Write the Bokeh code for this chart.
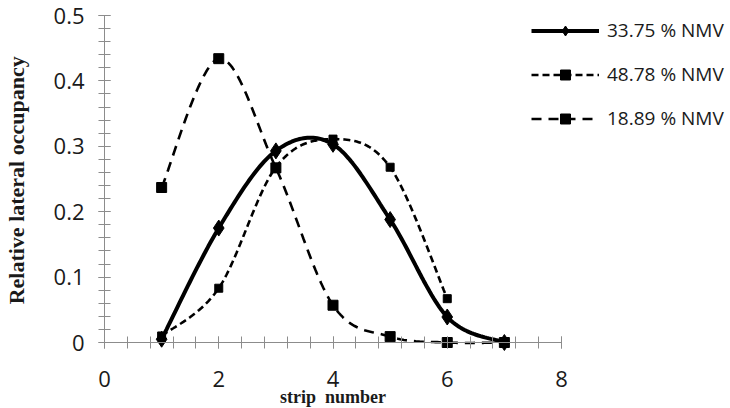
import numpy as np
from bokeh.plotting import figure
from bokeh.models import Range1d, Legend, LegendItem, FixedTicker, Label
from bokeh.embed import file_html
from bokeh.resources import INLINE

# ---- data ----
strip_a = [1, 2, 3, 4, 5, 6, 7]
occ_a = [0.005, 0.175, 0.293, 0.303, 0.188, 0.039, 0.000]   # 33.75 % NMV
strip_b = [1, 2, 3, 4, 5, 6]
occ_b = [0.010, 0.083, 0.268, 0.311, 0.268, 0.067]          # 48.78 % NMV
strip_c = [1, 2, 3, 4, 5, 6, 7]
occ_c = [0.237, 0.434, 0.267, 0.057, 0.009, 0.000, 0.000]   # 18.89 % NMV
series_names = ["33.75 % NMV", "48.78 % NMV", "18.89 % NMV"]
x_ticks = [0, 2, 4, 6, 8]
y_ticks = [0, 0.1, 0.2, 0.3, 0.4, 0.5]
x_title = "strip\u00a0\u00a0number"
y_title = "Relative lateral occupancy"


def smooth(xs, ys, n=30):
    """Smoothed line through the points (Catmull-Rom style, as a spreadsheet draws it)."""
    P = np.column_stack([xs, ys]).astype(float)
    out = []
    m = len(P)
    for i in range(m - 1):
        p0 = P[i - 1] if i > 0 else P[i]
        p1 = P[i]
        p2 = P[i + 1]
        p3 = P[i + 2] if i + 2 < m else P[i + 1]
        c1 = p1 + (p2 - p0) / 6.0
        c2 = p2 - (p3 - p1) / 6.0
        t = np.linspace(0, 1, n)[:, None]
        seg = ((1 - t) ** 3) * p1 + 3 * ((1 - t) ** 2) * t * c1 + 3 * (1 - t) * t ** 2 * c2 + t ** 3 * p2
        if i > 0:
            seg = seg[1:]
        out.append(seg)
    A = np.vstack(out)
    return A[:, 0], A[:, 1]


W, H = 730, 408
x0_px, x8_px = 104, 561
px_per_unit = (x8_px - x0_px) / 8.0
x_start = -x0_px / px_per_unit
x_end = (W - x0_px) / px_per_unit
top_px, zero_px = 15, 342
py_per_unit = (zero_px - top_px) / 0.5
y_start = -(H - zero_px) / py_per_unit
y_end = 0.5 + top_px / py_per_unit

p = figure(width=W, height=H, output_backend="svg", toolbar_location=None,
           x_range=Range1d(x_start, x_end), y_range=Range1d(y_start, y_end),
           min_border_left=0, min_border_right=0, min_border_top=0, min_border_bottom=0)
p.outline_line_color = None
p.grid.visible = False
p.background_fill_color = "white"
p.border_fill_color = "white"

axis_color = "#8c8c8c"
for ax in (p.xaxis[0], p.yaxis[0]):
    ax.axis_line_color = axis_color
    ax.major_tick_line_color = axis_color
    ax.minor_tick_line_color = axis_color
    ax.major_tick_in = 6
    ax.major_tick_out = 6
    ax.minor_tick_in = 6
    ax.minor_tick_out = 6
    ax.major_label_text_font = "Open Sans"
    ax.major_label_text_font_size = "22px"
    ax.major_label_text_color = "#1a1a1a"
    ax.axis_label = None

xa = p.xaxis[0]
xa.fixed_location = 0
xa.bounds = (0, 8)
xa.ticker = FixedTicker(ticks=x_ticks, minor_ticks=list(np.round(np.arange(0, 8.01, 0.4), 2)))
xa.major_label_standoff = 22

ya = p.yaxis[0]
ya.fixed_location = 0
ya.bounds = (0, 0.5)
ya.ticker = FixedTicker(ticks=y_ticks, minor_ticks=list(np.round(np.arange(0, 0.501, 0.02), 3)))
ya.major_label_overrides = {0: "0"}
ya.major_label_standoff = 14

p.add_layout(Label(x=4, y=-0.084, text=x_title,
                   text_font="Liberation Serif", text_font_style="bold",
                   text_font_size="18px", text_align="center", text_baseline="middle",
                   text_color="#1a1a1a"))
p.add_layout(Label(x=16, x_units="screen", y=0.248, text=y_title, angle=np.pi / 2,
                   text_font="Liberation Serif", text_font_style="bold",
                   text_font_size="22px", text_align="center", text_baseline="middle",
                   text_color="#1a1a1a"))

# series
sa_x, sa_y = smooth(strip_a, occ_a)
sb_x, sb_y = smooth(strip_b, occ_b)
sc_x, sc_y = smooth(strip_c, occ_c)

lc = p.line(sc_x, sc_y, line_color="black", line_width=2.6, line_dash="10 7")
mc = p.scatter(strip_c, occ_c, marker="square", size=10, color="black")
lb = p.line(sb_x, sb_y, line_color="black", line_width=2.6, line_dash="7 4")
mb = p.scatter(strip_b, occ_b, marker="square", size=8, color="black")
la = p.line(sa_x, sa_y, line_color="black", line_width=4)
ma = p.scatter(strip_a, occ_a, marker="diamond", size=16, color="black")

legend = Legend(items=[
    LegendItem(label=series_names[0], renderers=[la, ma]),
    LegendItem(label=series_names[1], renderers=[lb, mb]),
    LegendItem(label=series_names[2], renderers=[lc, mc]),
], location=(531, 277))
legend.border_line_color = None
legend.background_fill_alpha = 0
legend.padding = 0
legend.margin = 0
legend.glyph_width = 68
legend.glyph_height = 25
legend.spacing = 18
legend.label_standoff = 8
legend.label_text_font = "Open Sans"
legend.label_text_font_size = "19px"
legend.label_text_color = "#1a1a1a"
p.add_layout(legend)

open("out.html", "w").write(file_html(p, INLINE))
